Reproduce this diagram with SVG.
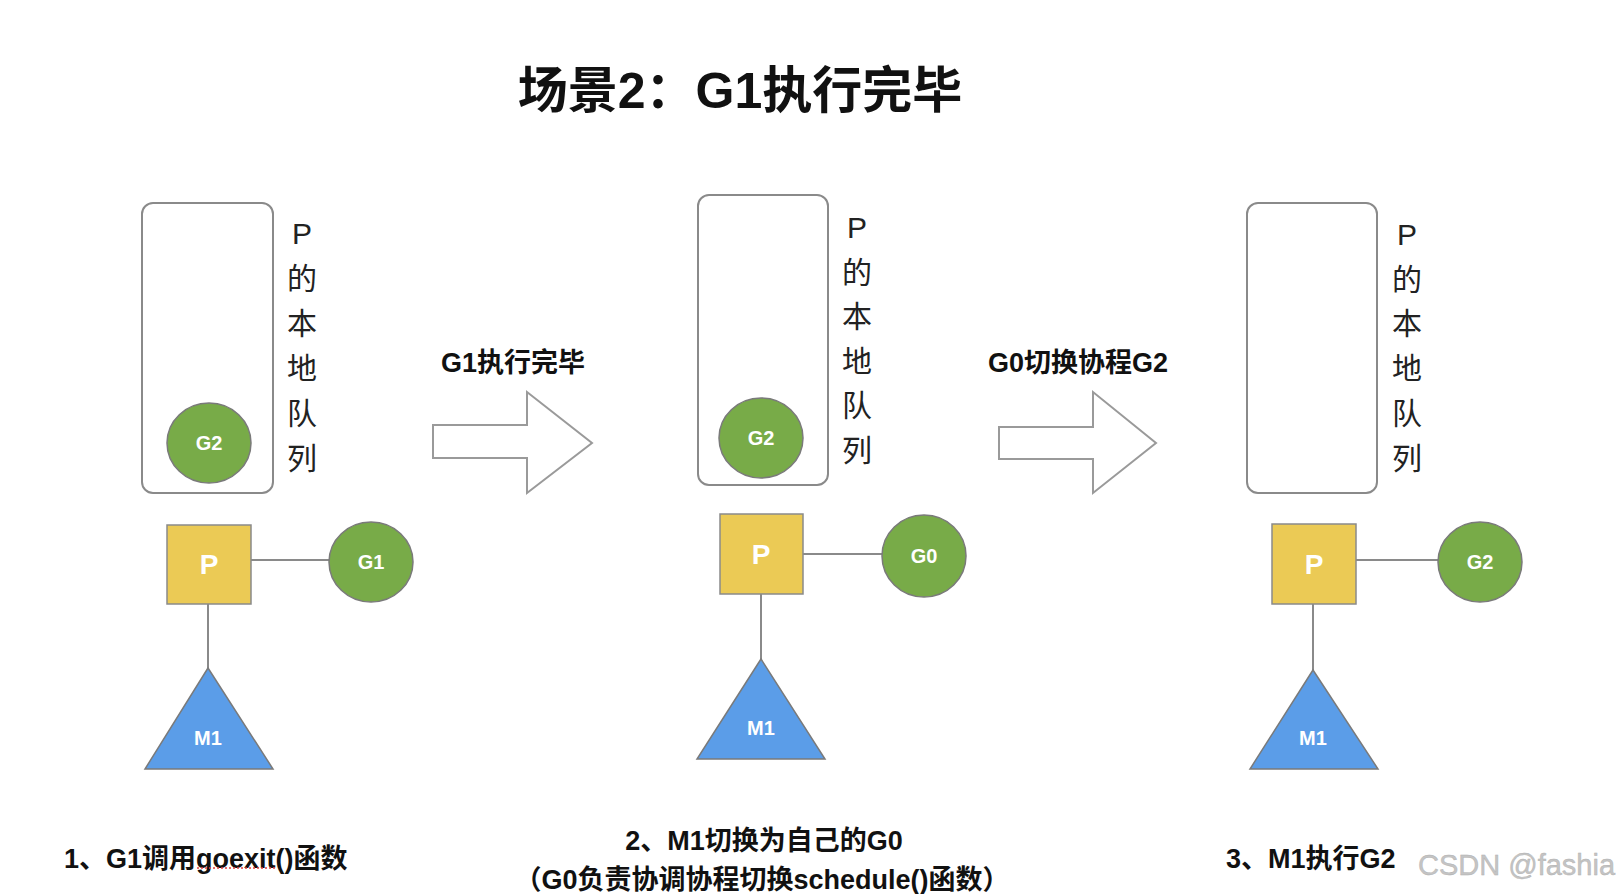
<svg xmlns="http://www.w3.org/2000/svg" width="1624" height="894" viewBox="0 0 1624 894">
<style>
.bg{fill:#ffffff}
.queue{fill:#ffffff;stroke:#8a8a8a;stroke-width:2}
.g{fill:#78ab48;stroke:#7a7a7a;stroke-width:1.5}
.p{fill:#ebca55;stroke:#8a8a8a;stroke-width:1.5}
.m{fill:#5b9de8;stroke:#7a7a7a;stroke-width:1.5}
.link{stroke:#8a8a8a;stroke-width:2;fill:none}
.bigarrow{fill:#ffffff;stroke:#9a9a9a;stroke-width:2;stroke-linejoin:miter}
.nt{font-family:"Liberation Sans","Noto Sans CJK SC",sans-serif;font-weight:bold;fill:#ffffff;text-anchor:middle}
.col{font-family:"Liberation Sans","Noto Sans CJK SC",sans-serif;font-size:30px;fill:#222;text-anchor:middle}
.lbl{font-family:"Liberation Sans","Noto Sans CJK SC",sans-serif;font-weight:bold;fill:#111}
.wm{font-family:"Liberation Sans","Noto Sans CJK SC",sans-serif;font-size:29px;fill:#c4c4c4;stroke:#b0b0b0;stroke-width:0.4}
</style>
<rect class="bg" x="0" y="0" width="1624" height="894"/>
<text class="lbl" x="740" y="108" font-size="50" text-anchor="middle">场景2：G1执行完毕</text>

<g id="connectors">
  <line class="link" x1="251" y1="560" x2="329" y2="560"/>
  <line class="link" x1="208" y1="604" x2="208" y2="668"/>
  <line class="link" x1="803" y1="554" x2="882" y2="554"/>
  <line class="link" x1="761" y1="594" x2="761" y2="659"/>
  <line class="link" x1="1356" y1="560" x2="1438" y2="560"/>
  <line class="link" x1="1313" y1="604" x2="1313" y2="670"/>
</g>

<g id="panel1">
  <g id="queue1">
    <rect class="queue" x="142" y="203" width="131" height="290" rx="11"/>
    <text class="col" x="302" y="244">P</text>
    <text class="col" x="302" y="289">的</text>
    <text class="col" x="302" y="334">本</text>
    <text class="col" x="302" y="379">地</text>
    <text class="col" x="302" y="424">队</text>
    <text class="col" x="302" y="469">列</text>
  </g>
  <g id="g2a">
    <ellipse class="g" cx="209" cy="443" rx="42" ry="40"/>
    <text class="nt" x="209" y="450" font-size="20">G2</text>
  </g>
  <g id="p1">
    <rect class="p" x="167" y="525" width="84" height="79"/>
    <text class="nt" x="209" y="574" font-size="28">P</text>
  </g>
  <g id="g1">
    <ellipse class="g" cx="371" cy="562" rx="42" ry="40"/>
    <text class="nt" x="371" y="569" font-size="20">G1</text>
  </g>
  <g id="m1a">
    <polygon class="m" points="208,668 273,769 145,769"/>
    <text class="nt" x="208" y="745" font-size="20">M1</text>
  </g>
</g>

<g id="arrow1">
  <polygon class="bigarrow" points="433,425 527,425 527,392 592,443 527,493 527,458 433,458"/>
  <text class="lbl" x="513" y="372" font-size="27" text-anchor="middle">G1执行完毕</text>
</g>

<g id="panel2">
  <g id="queue2">
    <rect class="queue" x="698" y="195" width="130" height="290" rx="11"/>
    <text class="col" x="857" y="238">P</text>
    <text class="col" x="857" y="283">的</text>
    <text class="col" x="857" y="327">本</text>
    <text class="col" x="857" y="372">地</text>
    <text class="col" x="857" y="416">队</text>
    <text class="col" x="857" y="461">列</text>
  </g>
  <g id="g2b">
    <ellipse class="g" cx="761" cy="438" rx="42" ry="40"/>
    <text class="nt" x="761" y="445" font-size="20">G2</text>
  </g>
  <g id="p2">
    <rect class="p" x="720" y="514" width="83" height="80"/>
    <text class="nt" x="761" y="564" font-size="28">P</text>
  </g>
  <g id="g0">
    <ellipse class="g" cx="924" cy="556" rx="42" ry="41"/>
    <text class="nt" x="924" y="563" font-size="20">G0</text>
  </g>
  <g id="m1b">
    <polygon class="m" points="761,659 825,759 697,759"/>
    <text class="nt" x="761" y="735" font-size="20">M1</text>
  </g>
</g>

<g id="arrow2">
  <polygon class="bigarrow" points="999,427 1093,427 1093,392 1156,443 1093,493 1093,459 999,459"/>
  <text class="lbl" x="1078" y="372" font-size="27" text-anchor="middle">G0切换协程G2</text>
</g>

<g id="panel3">
  <g id="queue3">
    <rect class="queue" x="1247" y="203" width="130" height="290" rx="11"/>
    <text class="col" x="1407" y="245">P</text>
    <text class="col" x="1407" y="290">的</text>
    <text class="col" x="1407" y="334">本</text>
    <text class="col" x="1407" y="379">地</text>
    <text class="col" x="1407" y="424">队</text>
    <text class="col" x="1407" y="469">列</text>
  </g>
  <g id="p3">
    <rect class="p" x="1272" y="524" width="84" height="80"/>
    <text class="nt" x="1314" y="574" font-size="28">P</text>
  </g>
  <g id="g2c">
    <ellipse class="g" cx="1480" cy="562" rx="42" ry="40"/>
    <text class="nt" x="1480" y="569" font-size="20">G2</text>
  </g>
  <g id="m1c">
    <polygon class="m" points="1313,670 1378,769 1250,769"/>
    <text class="nt" x="1313" y="745" font-size="20">M1</text>
  </g>
</g>

<g id="captions">
  <text class="lbl" x="64" y="868" font-size="27">1、G1调用goexit()函数</text>
  <line x1="197" y1="868" x2="277" y2="868" stroke="#e04040" stroke-width="1.5" stroke-dasharray="2,2"/>
  <text class="lbl" x="764" y="850" font-size="27" text-anchor="middle">2、M1切换为自己的G0</text>
  <text class="lbl" x="762" y="889" font-size="27" text-anchor="middle">（G0负责协调协程切换schedule()函数）</text>
  <text class="lbl" x="1226" y="868" font-size="27">3、M1执行G2</text>
  <text class="wm" x="1418" y="875">CSDN @fashia</text>
</g>
</svg>
